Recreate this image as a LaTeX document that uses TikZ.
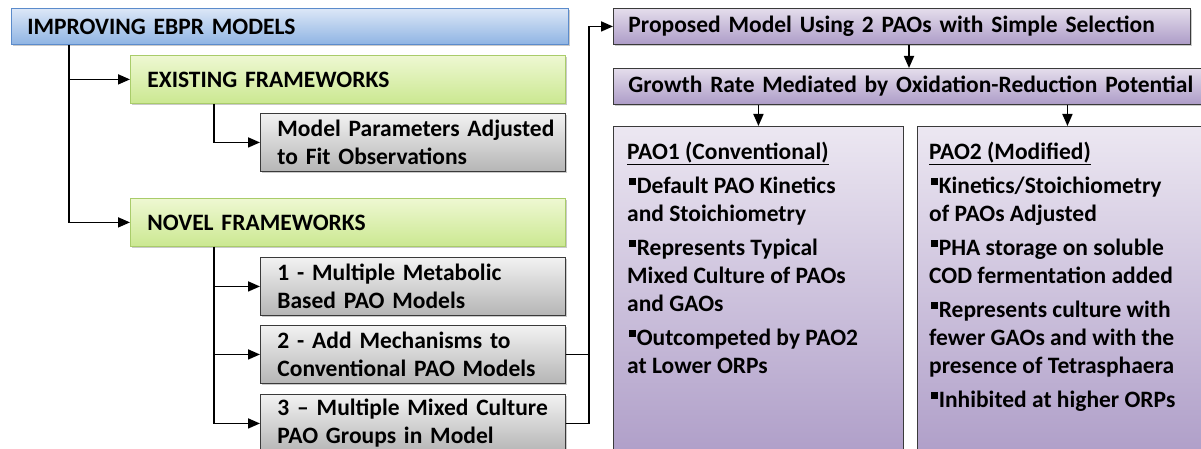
\documentclass[tikz,border=0pt]{standalone}
\usepackage{fontspec}
\setmainfont{Carlito}
\usetikzlibrary{shadows,arrows.meta}
\definecolor{blueT}{HTML}{DCE7F7}
\definecolor{blueB}{HTML}{8FB4E3}
\definecolor{blueD}{HTML}{5B8BCB}
\definecolor{greenT}{HTML}{EEF8D2}
\definecolor{greenB}{HTML}{CBE891}
\definecolor{greenD}{HTML}{A9CC6A}
\definecolor{grayT}{HTML}{F2F2F2}
\definecolor{grayB}{HTML}{B5B5B5}
\definecolor{purT}{HTML}{E4DDEC}
\definecolor{purB}{HTML}{AD9CC7}
\definecolor{edgeD}{HTML}{3A3A3A}
\newcommand{\sqbul}{\hspace{2pt}\rule[8.8pt]{6.6pt}{6.6pt}\hspace{1pt}}
\begin{document}
\begin{tikzpicture}[x=1pt,y=-1pt,
  base/.style={rectangle, anchor=north west, align=left, inner ysep=0pt,
    font=\bfseries\fontsize{23.5}{28}\selectfont,
    drop shadow={shadow xshift=2pt, shadow yshift=-2pt, opacity=0.35, fill=black!60}},
  bluebox/.style={base, draw=blueD, top color=blueT, bottom color=blueB, line width=0.8pt},
  greenbox/.style={base, draw=greenD, top color=greenT, bottom color=greenB, line width=0.8pt},
  graybox/.style={base, draw=edgeD, top color=grayT, bottom color=grayB, line width=0.9pt},
  purbox/.style={base, draw=edgeD, top color=purT, bottom color=purB, line width=0.9pt},
  bigbox/.style={rectangle, anchor=north west, draw=edgeD, line width=0.9pt, inner sep=0pt,
    top color=purT!70!white, bottom color=purB},
  bodytext/.style={anchor=north west, align=left, inner sep=0pt,
    font=\bfseries\fontsize{23.5}{28}\selectfont},
  arr/.style={line width=1.7pt, -{Triangle[length=12pt,width=10pt]}},
  ln/.style={line width=1.7pt}
]
\clip (0,0) rectangle (1201,449);
\useasboundingbox (0,0) rectangle (1201,449);

% left tree
\node[bluebox, inner xsep=16pt, text width=525pt, minimum height=36pt] (imp) at (11,8) {IMPROVING EBPR MODELS};
\node[greenbox, inner xsep=17pt, text width=401pt, minimum height=48pt] (exist) at (130,55) {EXISTING FRAMEWORKS};
\node[graybox, inner xsep=17pt, text width=271pt, minimum height=58pt] (mpar) at (260,113) {\mbox{Model Parameters Adjusted}\\\mbox{to Fit Observations}};
\node[greenbox, inner xsep=17pt, text width=401pt, minimum height=48pt] (novel) at (130,198) {NOVEL FRAMEWORKS};
\node[graybox, inner xsep=17pt, text width=271pt, minimum height=58pt] (m1) at (260,257) {\mbox{1 - Multiple Metabolic}\\\mbox{Based PAO Models}};
\node[graybox, inner xsep=17pt, text width=271pt, minimum height=58pt] (m2) at (260,325) {\mbox{2 - Add Mechanisms to}\\\mbox{Conventional PAO Models}};
\node[graybox, inner xsep=17pt, text width=271pt, minimum height=58pt] (m3) at (260,394) {\mbox{3 -- Multiple Mixed Culture}\\\mbox{PAO Groups in Model}};

\draw[arr] ([xshift=58pt]imp.south west) |- (exist.west);
\draw[arr] ([xshift=58pt]imp.south west) |- (novel.west);
\draw[arr] ([xshift=84pt]exist.south west) |- (mpar.west);
\draw[arr] ([xshift=84pt]novel.south west) |- (m1.west);
\draw[arr] ([xshift=84pt]novel.south west) |- (m2.west);
\draw[arr] ([xshift=84pt]novel.south west) |- (m3.west);

% right side
\node[purbox, inner xsep=15pt, text width=547pt, minimum height=36pt] (prop) at (613,8) {\mbox{Proposed Model Using 2 PAOs with Simple Selection}};
\node[purbox, inner xsep=15pt, text width=580pt, minimum height=36pt] (grow) at (613,68) {\mbox{Growth Rate Mediated by Oxidation-Reduction Potential}};
\node[bigbox, minimum width=290pt, minimum height=340pt] (pao1) at (613,126) {};
\node[bigbox, minimum width=300pt, minimum height=340pt] (pao2) at (917,126) {};

\node[bodytext] (t1) at ([xshift=14pt,yshift=-16pt]pao1.north west) {\underline{PAO1 (Conventional)}\\[6pt]
\sqbul Default PAO Kinetics\\
and Stoichiometry\\[6pt]
\sqbul Represents Typical\\
Mixed Culture of PAOs\\
and GAOs\\[6pt]
\sqbul Outcompeted by PAO2\\
at Lower ORPs};
\node[bodytext] (t2) at ([xshift=12pt,yshift=-16pt]pao2.north west) {\underline{PAO2 (Modified)}\\[6pt]
\sqbul Kinetics/Stoichiometry\\
of PAOs Adjusted\\[6pt]
\sqbul PHA storage on soluble\\
COD fermentation added\\[6pt]
\sqbul Represents culture with\\
fewer GAOs and with the\\
presence of Tetrasphaera\\[6pt]
\sqbul Inhibited at higher ORPs};

\draw[ln] (m2.east) -- ++(23,0);
\draw[arr] (m3.east) -- ++(23,0) |- (prop.west);
\draw[arr] ([xshift=296pt]prop.south west) -- ([xshift=296pt]grow.north west);
\draw[arr] (grow.south -| pao1.north) -- (pao1.north);
\draw[arr] (grow.south -| pao2.north) -- (pao2.north);
\end{tikzpicture}
\end{document}
